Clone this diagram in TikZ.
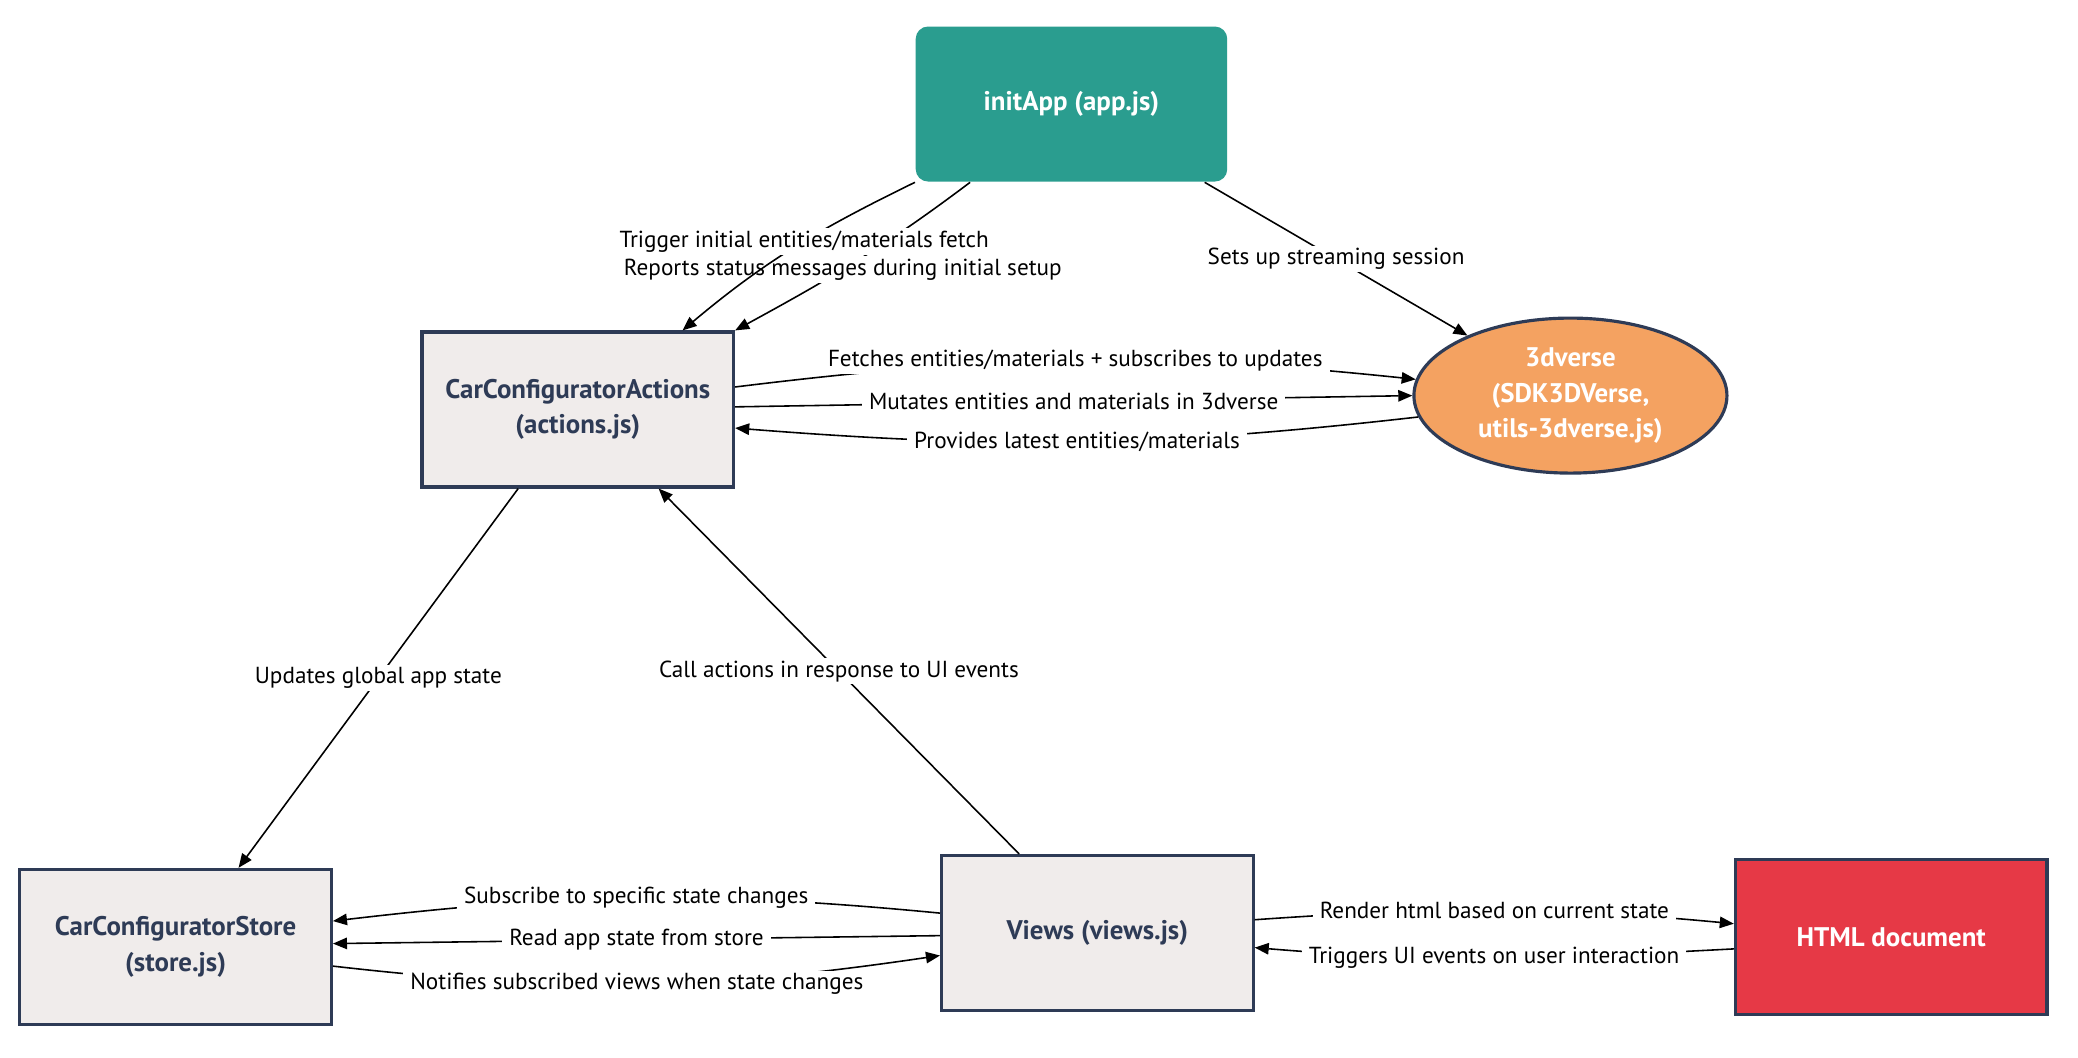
\documentclass[tikz,border=0pt]{standalone}
\usepackage{fontspec}
\setmainfont{PT Sans}
\usetikzlibrary{arrows.meta,shapes.geometric,calc}

\definecolor{tealbox}{HTML}{2A9D8F}
\definecolor{orangebox}{HTML}{F4A261}
\definecolor{redbox}{HTML}{E63946}
\definecolor{greybox}{HTML}{F0ECEB}
\definecolor{navy}{HTML}{2E3B56}

\tikzset{
  box/.style={rectangle, minimum width=6.23cm, minimum height=3.1cm, inner sep=0pt,
    align=center, font=\fontsize{15.3}{20}\selectfont\bfseries},
  module/.style={box, draw=navy, line width=1.8pt, fill=greybox, text=navy},
  lbl/.style={fill=white, inner xsep=4pt, inner ysep=1.5pt, text=black, font=\fontsize{13.2}{15}\selectfont},
}

\begin{document}
\begin{tikzpicture}[x=0.026506cm, y=-0.026506cm, >={Triangle[length=8pt,width=6.5pt]}, line width=0.9pt]
  \path[use as bounding box, fill=white] (0,0) rectangle (1568,798);

  \node[box, fill=tealbox, text=white, rounded corners=7pt] (init) at (808.5,78.5) {initApp (app.js)};
  \node[module] (act) at (436,309) {CarConfiguratorActions\\(actions.js)};
  \node[ellipse, draw=navy, line width=1.8pt, fill=orangebox, text=white, minimum width=6.26cm,
    minimum height=3.1cm, inner sep=0pt, align=center, font=\fontsize{15.3}{20}\selectfont\bfseries]
    (verse) at (1185,298.5) {3dverse\\(SDK3DVerse,\\utils-3dverse.js)};
  \node[module] (store) at (132.5,714.5) {CarConfiguratorStore\\(store.js)};
  \node[module] (views) at (828,704) {Views (views.js)};
  \node[box, draw=navy, line width=1.8pt, fill=redbox, text=white] (html) at (1427,707) {HTML document};

  \draw[->] ($(init.south)+(-76.5,0)$) to[out=217,in=28.6]
    node[lbl, pos=0.56] (lreport) {Reports status messages during initial setup} (act.north east);
  \draw[->] (init.south west) to[out=206,in=40]
    node[lbl, pos=0.45] (ltrigger) {Trigger initial entities/materials fetch} ($(act.north)+(79,0)$);
  \draw[->] ($(init.south)+(100.5,0)$) -- node[lbl] (lsetup) {Sets up streaming session} (verse);

  \draw[->] ($(act.east)+(0,-17)$) to[out=7,in=174]
    node[lbl] (lfetch) {Fetches entities/materials + subscribes to updates} (verse.174);
  \draw[->] ($(act.east)+(0,-2)$) -- node[lbl] (lmutate) {Mutates entities and materials in 3dverse} (verse.west);
  \draw[->] (verse.188) to[out=186.5,in=-4.5]
    node[lbl] (lprovide) {Provides latest entities/materials} ($(act.east)+(0,14)$);

  \draw[->] ($(act.south)+(-45,0)$) -- node[lbl] (lupdate) {Updates global app state} ($(store.north)+(47.5,0)$);
  \draw[->] ($(views.north)+(-59,0)$) -- node[lbl] (lcall) {Call actions in response to UI events} ($(act.south)+(61,0)$);

  \draw[->] ($(views.west)+(0,-15)$) to[out=174.5,in=6.7]
    node[lbl] (lsubscribe) {Subscribe to specific state changes} ($(store.east)+(0,-19.5)$);
  \draw[->] ($(views.west)+(0,2)$) -- node[lbl] (lread) {Read app state from store} ($(store.east)+(0,-2.5)$);
  \draw[->] ($(store.east)+(0,14.5)$) to[out=-6.5,in=188.4]
    node[lbl] (lnotify) {Notifies subscribed views when state changes} ($(views.west)+(0,17)$);

  \draw[->] ($(views.east)+(0,-10)$) to[out=4,in=174.6]
    node[lbl] (lrender) {Render html based on current state} ($(html.west)+(0,-10)$);
  \draw[->] ($(html.west)+(0,9)$) to[out=183,in=-4.8]
    node[lbl] (luievent) {Triggers UI events on user interaction} ($(views.east)+(0,11)$);
\end{tikzpicture}
\end{document}
